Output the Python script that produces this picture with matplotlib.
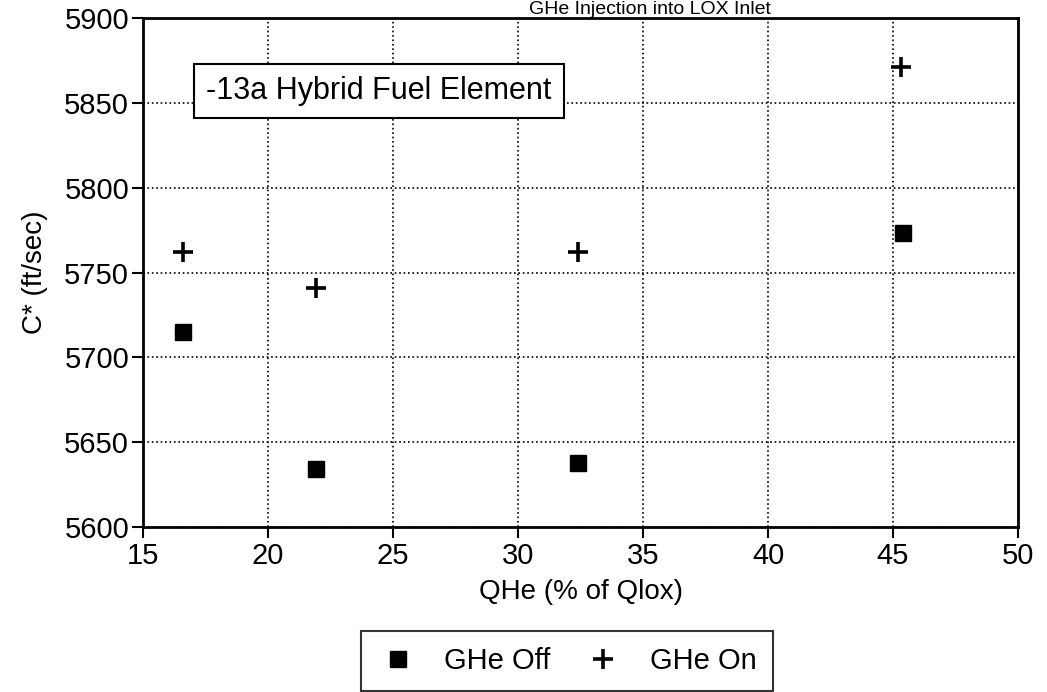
import numpy as np
import matplotlib
matplotlib.use("Agg")
import matplotlib.pyplot as plt
from matplotlib.lines import Line2D

# ---- dados ----
QHE_OFF = [16.6, 21.9, 32.4, 45.4]
CSTAR_OFF = [5715, 5634, 5638, 5773]
QHE_ON = [16.6, 21.9, 32.4, 45.3]
CSTAR_ON = [5762, 5741, 5762, 5871]

XTICKS = [15, 20, 25, 30, 35, 40, 45, 50]
YTICKS = [5600, 5650, 5700, 5750, 5800, 5850, 5900]

TITULO = "GHe Injection into LOX Inlet"
ROTULO_CAIXA = "-13a Hybrid Fuel Element"

plt.rcParams['font.family'] = ['Liberation Sans', 'DejaVu Sans']

fig = plt.figure(figsize=(10.47, 6.92), dpi=100)
ax = fig.add_axes([0.1366, 0.2384, 0.8357, 0.7356])

ax.plot(QHE_OFF, CSTAR_OFF, ls='none', marker='s', ms=11, color='black',
        label='GHe Off')
ax.plot(QHE_ON, CSTAR_ON, ls='none', marker='+', ms=14, mew=2.6, color='black',
        label='GHe On')

ax.set_xlim(15, 50)
ax.set_ylim(5600, 5900)
ax.set_xticks(XTICKS)
ax.set_yticks(YTICKS)
ax.tick_params(direction='out', length=8, width=1.5, labelsize=21, colors='black')
ax.tick_params(axis='y', pad=2)
ax.tick_params(axis='x', pad=3)
ax.grid(True, color='black', ls=':', lw=1.2)
for s in ax.spines.values():
    s.set_linewidth(2)
    s.set_color('black')

ax.set_xlabel("QHe (% of Qlox)", fontsize=20, labelpad=6)
ax.set_ylabel("C* (ft/sec)", fontsize=20, labelpad=12)

# caixa de texto
ax.text(0.072, 0.857, ROTULO_CAIXA, transform=ax.transAxes, fontsize=22,
        ha='left', va='center',
        bbox=dict(boxstyle='square,pad=0.4', fc='white', ec='black', lw=1.5))

# titulo no topo (no original aparece cortado)
fig.text(650 / 1047, 1 - 1 / 692, TITULO, ha='center', va='top', fontsize=14)

# legenda abaixo
handles = [Line2D([], [], ls='none', marker='s', ms=11, color='black'),
           Line2D([], [], ls='none', marker='+', ms=14, mew=2.6, color='black')]
leg = fig.legend(handles, ['GHe Off', 'GHe On'], loc='center', ncol=2,
                 bbox_to_anchor=(567 / 1047, 1 - 661 / 692), fontsize=21,
                 frameon=True, fancybox=False, edgecolor='black',
                 handlelength=1.4, columnspacing=1.1, borderpad=0.55,
                 handletextpad=0.9)
leg.get_frame().set_linewidth(1.5)

fig.savefig('out.png', dpi=100)
